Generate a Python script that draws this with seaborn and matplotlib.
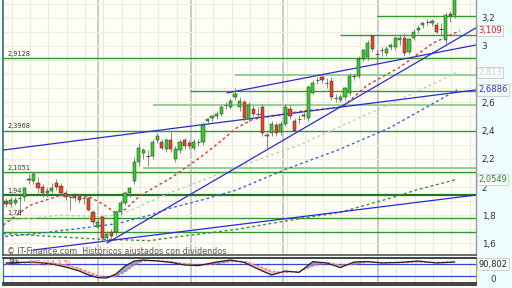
import numpy as np
import pandas as pd
import matplotlib
matplotlib.use("Agg")
import matplotlib.pyplot as plt
import seaborn as sns
from matplotlib import transforms

# ---------------- data ----------------
opens = [1.90, 1.88, 1.89, 1.92, 1.93, 2.05, 2.04, 2.03, 2.00, 1.96,
         1.97, 2.03, 2.01, 1.96, 1.93, 1.94, 1.93, 1.92, 1.92, 1.82,
         1.72, 1.79, 1.64, 1.68, 1.68, 1.82, 1.89, 1.96, 2.04, 2.18,
         2.24, 2.22, 2.22, 2.33, 2.32, 2.27, 2.33, 2.20, 2.26, 2.33,
         2.31, 2.28, 2.32, 2.32, 2.47, 2.49, 2.50, 2.52, 2.58, 2.57,
         2.64, 2.57, 2.60, 2.48, 2.55, 2.52, 2.57, 2.36, 2.38, 2.44,
         2.39, 2.45, 2.55, 2.47, 2.48, 2.51, 2.49, 2.67, 2.76, 2.78,
         2.74, 2.75, 2.63, 2.62, 2.64, 2.67, 2.79, 2.79, 2.91, 2.92,
         3.07, 2.94, 2.97, 2.95, 2.99, 2.99, 3.04, 3.06, 2.96, 3.06,
         3.11, 3.15, 3.17, 3.16, 3.15, 3.12, 3.04, 3.23, 3.22]
highs = [1.92, 1.93, 1.93, 1.96, 2.00, 2.09, 2.11, 2.07, 2.02, 2.00,
         2.03, 2.06, 2.03, 1.98, 1.95, 1.96, 1.95, 1.94, 1.93, 1.84,
         1.77, 1.80, 1.69, 1.70, 1.84, 1.91, 1.97, 2.00, 2.21, 2.31,
         2.28, 2.26, 2.34, 2.38, 2.34, 2.35, 2.39, 2.29, 2.34, 2.35,
         2.33, 2.34, 2.34, 2.46, 2.49, 2.51, 2.54, 2.58, 2.60, 2.63,
         2.70, 2.64, 2.62, 2.60, 2.58, 2.57, 2.59, 2.39, 2.47, 2.46,
         2.47, 2.59, 2.58, 2.49, 2.51, 2.53, 2.72, 2.76, 2.78, 2.80,
         2.77, 2.78, 2.66, 2.66, 2.71, 2.81, 2.81, 2.93, 2.98, 3.04,
         3.08, 2.97, 2.99, 3.00, 3.02, 3.07, 3.08, 3.09, 3.06, 3.12,
         3.15, 3.17, 3.19, 3.19, 3.17, 3.16, 3.24, 3.25, 3.40]
lows = [1.86, 1.86, 1.87, 1.80, 1.90, 2.02, 2.02, 1.96, 1.93, 1.93,
        1.95, 1.98, 1.94, 1.91, 1.84, 1.90, 1.89, 1.88, 1.83, 1.73,
        1.70, 1.62, 1.62, 1.63, 1.66, 1.80, 1.87, 1.93, 2.02, 2.15,
        2.20, 2.15, 2.20, 2.31, 2.26, 2.25, 2.25, 2.18, 2.24, 2.27,
        2.27, 2.26, 2.29, 2.30, 2.45, 2.47, 2.48, 2.50, 2.55, 2.55,
        2.62, 2.54, 2.47, 2.46, 2.50, 2.49, 2.36, 2.28, 2.36, 2.36,
        2.37, 2.43, 2.48, 2.38, 2.45, 2.48, 2.47, 2.66, 2.73, 2.74,
        2.70, 2.62, 2.60, 2.60, 2.62, 2.65, 2.76, 2.77, 2.89, 2.90,
        2.96, 2.88, 2.93, 2.93, 2.97, 2.97, 3.01, 2.93, 2.94, 3.04,
        3.09, 3.13, 3.15, 3.14, 3.09, 3.08, 3.00, 3.17, 3.20]
closes = [1.88, 1.91, 1.91, 1.92, 1.99, 2.06, 2.09, 1.99, 1.96, 1.97,
          1.99, 2.00, 1.96, 1.93, 1.93, 1.92, 1.91, 1.92, 1.84, 1.75,
          1.75, 1.64, 1.67, 1.65, 1.82, 1.89, 1.96, 1.99, 2.18, 2.28,
          2.26, 2.22, 2.32, 2.36, 2.28, 2.33, 2.27, 2.27, 2.32, 2.29,
          2.29, 2.32, 2.32, 2.44, 2.48, 2.50, 2.52, 2.57, 2.58, 2.61,
          2.66, 2.61, 2.49, 2.58, 2.52, 2.52, 2.38, 2.37, 2.45, 2.38,
          2.45, 2.57, 2.50, 2.40, 2.48, 2.50, 2.71, 2.74, 2.76, 2.76,
          2.74, 2.64, 2.63, 2.64, 2.70, 2.79, 2.79, 2.91, 2.97, 3.02,
          2.98, 2.94, 2.97, 2.98, 3.01, 3.06, 3.06, 2.95, 3.05, 3.10,
          3.13, 3.16, 3.17, 3.18, 3.10, 3.12, 3.22, 3.21, 3.34]

# moving averages, sampled at candle positions
ma_red_x = [-0.6, 5.2, 11.8, 18.3, 21.6, 23.8, 26.0, 29.3, 35.8, 42.4, 45.2, 50.4,
            53.9, 57.6, 61.4, 64.8, 68.6, 73.6, 78.8, 86.0, 93.2, 99.1]
ma_red_y = [1.73, 1.87, 1.94, 1.93, 1.87, 1.82, 1.84, 1.94, 2.06, 2.21, 2.28, 2.42,
            2.48, 2.50, 2.52, 2.54, 2.55, 2.57, 2.72, 2.85, 3.02, 3.109]
ma_gray_x = [-0.2, 11.8, 20.5, 25.5, 35.8, 50.4, 64.2, 72.3, 86.0, 98.5]
ma_gray_y = [1.76, 1.80, 1.79, 1.81, 1.96, 2.14, 2.30, 2.42, 2.62, 2.813]
ma_blue_x = [-0.2, 6.8, 16.8, 24.2, 31.4, 35.8, 43.0, 50.4, 61.4, 72.3, 83.8, 94.8, 98.5]
ma_blue_y = [1.65, 1.67, 1.71, 1.74, 1.80, 1.85, 1.91, 1.98, 2.13, 2.26, 2.42, 2.62, 2.6886]
ma_green_x = [-0.6, 20.5, 31.4, 35.8, 50.4, 64.8, 72.9, 83.8, 89.7, 98.5]
ma_green_y = [1.67, 1.63, 1.62, 1.64, 1.70, 1.78, 1.82, 1.92, 1.98, 2.0549]

# trend lines (two anchor points each)
trend_x = [(5.9, 102.6), (22.05, 102.6), (-0.65, 102.6), (48.25, 102.6)]
trend_y = [(1.553, 1.943), (1.603, 3.128), (2.262, 2.6886), (2.667, 3.007)]

# horizontal support / resistance levels: value, start index, kind
levels = [3.21, 3.08, 2.9128, 2.795, 2.68, 2.58, 2.3968, 2.135, 2.1051, 1.94, 1.78, 1.68]
level_start = [81, 72.9, -1, 50, 40.2, 32.1, -1, 29.9, -1, -1, -1, -1]
level_kind = ['n', 'n', 'n', 'l', 'n', 'l', 'n', 'l', 'n', 'd', 'n', 'n']
level_labels = {2.9128: "2,9128", 2.3968: "2,3968", 2.1051: "2,1051", 1.94: "1,94", 1.78: "1,78"}

ytick_vals = [1.6, 1.8, 2.0, 2.2, 2.4, 2.6, 3.0, 3.2]
ytick_labels = ["1,6", "1,8", "2", "2,2", "2,4", "2,6", "3", "3,2"]

# stochastic oscillator
osc_x = [0, 3, 6, 10, 13, 16, 18, 20, 22, 24, 26, 28, 30, 33, 36, 39, 42, 46, 49,
         52, 55, 58, 61, 64, 67, 70, 73, 76, 79, 82, 86, 90, 94, 98]
osc_k = [85, 88, 90, 80, 65, 45, 25, 12, 10, 30, 70, 95, 100, 95, 88, 75, 72, 90, 100,
         88, 55, 25, 45, 38, 92, 85, 62, 90, 92, 85, 88, 95, 85, 90]
osc_d = [80, 85, 88, 85, 75, 58, 40, 22, 14, 18, 40, 75, 95, 97, 92, 82, 74, 80, 92,
         93, 72, 42, 38, 42, 70, 88, 75, 78, 90, 88, 86, 90, 88, 90.8]

# ---------------- drawing ----------------
sns.set_style("white")
plt.rcParams['font.family'] = ['DejaVu Sans']

W, H = 512, 288
fig = plt.figure(figsize=(5.12, 2.88), dpi=100, facecolor='#eefcfc')


def rect(x0, y0, x1, y1):
    return [x0 / W, 1 - y1 / H, (x1 - x0) / W, (y1 - y0) / H]


XMIN, XMAX = -0.655, 102.62
ax = fig.add_axes(rect(3, 0, 476, 255))
ax.set_facecolor('#fefef6')
ax.set_xlim(XMIN, XMAX)
ax.set_ylim(1.518, 3.326)

# grid
for k in range(26):
    ax.axvline(1.25 + 4 * k, color='#eaeadc', lw=0.8, zorder=0)
for xm in [20.1, 40.4, 60.5, 81.2]:
    ax.axvline(xm, color='#c8c8c0', lw=1.3, zorder=0)
for yv in np.arange(1.6, 3.35, 0.1):
    ax.axhline(yv, color='#ededE0', lw=0.8, zorder=0)

# levels
for v, s, kd in zip(levels, level_start, level_kind):
    x0 = XMIN if s < 0 else s
    col = {'n': '#2f9a2f', 'l': '#96cf96', 'd': '#1e7a1e'}[kd]
    lw = {'n': 1.0, 'l': 1.4, 'd': 1.6}[kd]
    ax.plot([x0, XMAX], [v, v], color=col, lw=lw, zorder=1, solid_capstyle='butt')
    if v in level_labels:
        ax.text(0.3, v + 0.012, level_labels[v], fontsize=4.8, color='#333333',
                va='bottom', ha='left', zorder=5)

# moving averages
sns.lineplot(x=ma_gray_x, y=ma_gray_y, ax=ax, color='#c8c8c8', lw=1.0, ls=(0, (2, 2)), sort=False, zorder=2)
sns.lineplot(x=ma_green_x, y=ma_green_y, ax=ax, color='#3a8a3a', lw=1.0, ls=(0, (2, 2)), sort=False, zorder=2)
sns.lineplot(x=ma_blue_x, y=ma_blue_y, ax=ax, color='#4060dd', lw=1.0, ls=(0, (2, 2)), sort=False, zorder=2)
sns.lineplot(x=ma_red_x, y=ma_red_y, ax=ax, color='#cc3a3a', lw=1.0, ls=(0, (2, 2)), sort=False, zorder=2)

# trend lines
for tx, ty in zip(trend_x, trend_y):
    ax.plot(tx, ty, color='#2a2ad8', lw=0.9, zorder=3)

# candles
idx = np.arange(len(opens))
for i, o, h, l, c in zip(idx, opens, highs, lows, closes):
    ax.vlines(i, l, h, color='#777777', lw=0.6, zorder=4)
    if abs(c - o) < 0.008:
        ax.hlines(c, i - 0.35, i + 0.35, color='#555555', lw=0.8, zorder=5)
    else:
        col = '#2ed12e' if c > o else '#ee4422'
        ax.bar(i, abs(c - o), bottom=min(o, c), width=0.7, color=col,
               edgecolor='#2a2a2a', lw=0.35, zorder=5)

ax.yaxis.tick_right()
ax.set_yticks(ytick_vals)
ax.set_yticklabels(ytick_labels)
ax.tick_params(axis='y', length=0, pad=4, labelsize=6.3, labelcolor='#333333')
ax.set_xticks([])
ax.set_xlabel('')
ax.set_ylabel('')
ax.spines['top'].set_visible(False)
ax.spines['left'].set_color('#2f6f6f')
ax.spines['left'].set_linewidth(1.2)
ax.spines['right'].set_color('#9a9a9a')
ax.spines['right'].set_linewidth(1.0)
ax.spines['bottom'].set_color('#555555')
ax.spines['bottom'].set_linewidth(1.2)

ax.text(0.3, 1.545, "\u00a9 IT-Finance.com  Hist\u00f3ricos ajustados con dividendos",
        fontsize=5.8, color='#555555', va='center', ha='left', zorder=6)

# right-side value boxes
trans = transforms.blended_transform_factory(ax.transAxes, ax.transData)
boxes = [(3.109, "3,109", '#cc2222'), (2.813, "2,813", '#d0d0d0'),
         (2.6886, "2,6886", '#2233cc'), (2.0549, "2,0549", '#2a8a2a')]
for v, t, col in boxes:
    ax.text(1.005, v, t, transform=trans, fontsize=6.0, color=col, va='center', ha='left',
            clip_on=False, zorder=10,
            bbox=dict(boxstyle='square,pad=0.15', fc='#f8fcfc', ec='#c0c0c0', lw=0.5))

# oscillator panel
ax2 = fig.add_axes(rect(3, 258, 476, 283))
ax2.set_facecolor('#fefef6')
ax2.set_xlim(XMIN, XMAX)
ax2.set_ylim(-15, 110)
for k in range(26):
    ax2.axvline(1.25 + 4 * k, color='#eaeadc', lw=0.8, zorder=0)
for xm in [20.1, 40.4, 60.5, 81.2]:
    ax2.axvline(xm, color='#c8c8c0', lw=1.3, zorder=0)
ax2.axhline(80, color='#3344dd', lw=0.9, zorder=1)
ax2.axhline(20, color='#3344dd', lw=0.9, zorder=1)
kk = np.array(osc_k, dtype=float)
dd = np.array(osc_d, dtype=float)
ax2.fill_between(osc_x, kk, dd, where=kk >= dd, interpolate=True, color='#8c8ccc', alpha=0.8, lw=0, zorder=2)
ax2.fill_between(osc_x, kk, dd, where=kk < dd, interpolate=True, color='#f2b0b0', alpha=0.8, lw=0, zorder=2)
sns.lineplot(x=osc_x, y=osc_d, ax=ax2, color='#e07070', lw=0.9, ls=(0, (2, 1.5)), sort=False, zorder=3)
sns.lineplot(x=osc_x, y=osc_k, ax=ax2, color='#222222', lw=0.9, sort=False, zorder=4)
ax2.set_xticks([])
ax2.set_yticks([])
ax2.set_xlabel('')
ax2.set_ylabel('')
for sp in ['top', 'bottom']:
    ax2.spines[sp].set_color('#333333')
    ax2.spines[sp].set_linewidth(1.3)
ax2.spines['left'].set_color('#2f6f6f')
ax2.spines['right'].set_color('#9a9a9a')
ax2.text(0.5, 103, "Stk", fontsize=5, color='#222222', va='top', ha='left', zorder=6)
ax2.text(5.0, 103, "%D (14,3,5)", fontsize=5, color='#e07070', va='top', ha='left', zorder=6)
t2 = transforms.blended_transform_factory(ax2.transAxes, ax2.transData)
ax2.text(1.005, 80, "90,802", transform=t2, fontsize=6.0, color='#222222', va='center', ha='left',
         clip_on=False, zorder=10,
         bbox=dict(boxstyle='square,pad=0.15', fc='#f8fcfc', ec='#c0c0c0', lw=0.5))
ax2.text(1.03, 5, "0", transform=t2, fontsize=6.3, color='#333333', va='center', ha='left', clip_on=False)

# bottom strip
ax3 = fig.add_axes(rect(3, 285, 476, 288))
ax3.set_facecolor('#fefef6')
ax3.set_xticks([])
ax3.set_yticks([])
for sp in ax3.spines.values():
    sp.set_visible(False)
ax3.spines['top'].set_visible(True)
ax3.spines['top'].set_color('#333333')
ax3.spines['top'].set_linewidth(1.3)

fig.savefig("out.png", dpi=100, facecolor=fig.get_facecolor())
